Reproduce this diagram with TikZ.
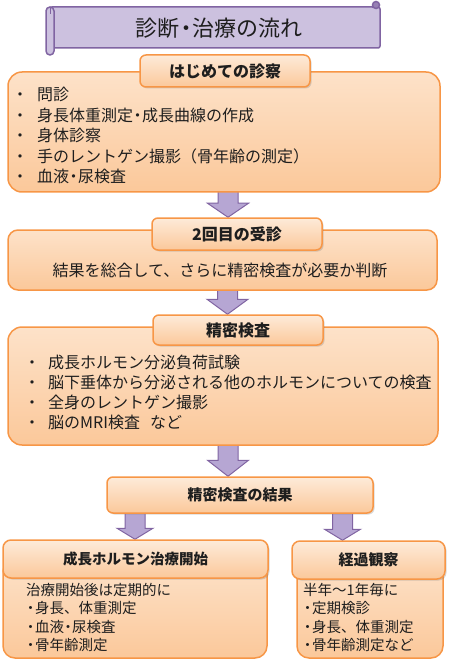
\documentclass[tikz,border=0pt]{standalone}
\usepackage{fontspec}
\setmainfont{Noto Sans CJK JP}
\usetikzlibrary{shadows,calc}
\definecolor{orbd}{HTML}{F79646}
\definecolor{ortop}{HTML}{FDE2C9}
\definecolor{orbot}{HTML}{FBC89A}
\definecolor{lvfill}{HTML}{CCC1DF}
\definecolor{lvbd}{HTML}{8064A2}
\definecolor{arfill}{HTML}{B6A6D3}
\definecolor{txt}{HTML}{1E1E1E}
\newcommand\nd{\makebox[0.55em][c]{・}}
\pgfdeclarelayer{bg}
\pgfsetlayers{bg,main}
\newcommand\fatarrow[6]{%
  \begin{pgfonlayer}{bg}
  \path[bigarrow] let \p1=(#2.south), \p2=(#3.north) in
    (#1pt-#6pt,\y1+3pt) -- (#1pt+#6pt,\y1+3pt) -- (#1pt+#6pt,\y2+#4pt) --
    (#1pt+#5pt,\y2+#4pt) -- (#1pt,\y2) -- (#1pt-#5pt,\y2+#4pt) --
    (#1pt-#6pt,\y2+#4pt) -- cycle;
  \end{pgfonlayer}}
\begin{document}
\begin{tikzpicture}[x=1pt,y=-1pt,
  every node/.style={text=txt},
  mainbox/.style={draw=orbd,line width=1.5pt,top color=ortop,bottom color=orbot,inner sep=0pt},
  hdrbox/.style={draw=orbd,line width=1.5pt,top color=ortop!70!white,bottom color=orbot,rounded corners=6pt,inner sep=0pt,
     font=\bfseries\fontsize{16pt}{18pt}\selectfont,
     drop shadow={opacity=0.3,shadow xshift=1.5pt,shadow yshift=-1.5pt}},
  bigarrow/.style={fill=arfill,draw=lvbd,line width=1pt,line join=miter},
  item/.style={anchor=base west,inner sep=0pt,font=\fontsize{16pt}{18pt}\selectfont},
  smitem/.style={anchor=base west,inner sep=0pt,font=\fontsize{14.5pt}{16pt}\selectfont},
  scroll/.style={fill=lvfill,draw=lvbd,line width=1.5pt}]
\useasboundingbox (0,0) rectangle (448,660);

% title scroll
\path[scroll,rounded corners=2pt] (50,7) rectangle (380,48);
\path[scroll,rounded corners=4pt] (46,7) rectangle (54,55);
\path[draw=lvbd,line width=1pt] (50,7) -- (50,14);
\path[scroll,fill=lvbd!70!lvfill] (376,5) circle (3.5);
\path[draw=lvbd,line width=1.5pt] (372.5,5) -- (372.5,8);
\node[inner sep=0pt,font=\fontsize{22pt}{24pt}\selectfont,anchor=base] (title) at (219,36.5) {診断\nd 治療の流れ};

% box 1
\node[mainbox,rounded corners=14pt,minimum width=432pt,minimum height=120pt] (box1) at (224,132) {};
\node[hdrbox,minimum width=170pt,minimum height=32pt] (hdr1) at (225,71) {はじめての診察};
\foreach \t [count=\i] in {問診,身長体重測定\nd 成長曲線の作成,身体診察,手のレントゲン撮影（骨年齢の測定）,血液\nd 尿検査}
  \node[item] (b1i\i) at (12,{101+20.5*(\i-1)}) {・\hspace{9pt}\t};

% box 2
\node[mainbox,rounded corners=10pt,minimum width=429pt,minimum height=60pt] (box2) at (222.5,260) {};
\node[hdrbox,minimum width=170pt,minimum height=32pt] (hdr2) at (237,234) {2回目の受診};
\node[inner sep=0pt,anchor=base,font=\fontsize{16pt}{18pt}\selectfont] (b2t) at (220,276) {結果を総合して、さらに精密検査が必要か判断};

% box 3
\node[mainbox,rounded corners=14pt,minimum width=430pt,minimum height=118pt] (box3) at (223,386) {};
\node[hdrbox,minimum width=170pt,minimum height=30pt] (hdr3) at (238,330) {精密検査};
\foreach \t [count=\i] in {成長ホルモン分泌負荷試験,脳下垂体から分泌される他のホルモンについての検査,全身のレントゲン撮影,脳のMRI検査\hspace{10pt}など}
  \node[item] (b3i\i) at (24,{368+20*(\i-1)}) {・\hspace{8pt}\t};

% result
\node[hdrbox,font=\bfseries\fontsize{15pt}{18pt}\selectfont,minimum width=266pt,minimum height=36pt] (res) at (240,495) {精密検査の結果};

% lower left
\node[mainbox,rounded corners=12pt,minimum width=264pt,minimum height=98pt] (lbody) at (135,609) {};
\node[hdrbox,font=\bfseries\fontsize{14.5pt}{18pt}\selectfont,rounded corners=8pt,minimum width=265pt,minimum height=38pt] (lhdr) at (135.5,559) {成長ホルモン治療開始};
\node[smitem] (l0) at (26,595.5) {治療開始後は定期的に};
\foreach \t [count=\i] in {身長、体重測定,血液\nd 尿検査,骨年齢測定}
  \node[smitem] (l\i) at (26,{595.5+18.3*\i}) {\makebox[9pt][c]{・}\t};

% lower right
\node[mainbox,rounded corners=12pt,minimum width=146pt,minimum height=98pt] (rbody) at (370,609) {};
\node[hdrbox,font=\bfseries\fontsize{15pt}{18pt}\selectfont,rounded corners=8pt,minimum width=153pt,minimum height=38pt] (rhdr) at (368.5,560) {経過観察};
\node[smitem] (r0) at (303,595.5) {半年～1年毎に};
\foreach \t [count=\i] in {定期検診,身長、体重測定,骨年齢測定など}
  \node[smitem] (r\i) at (303,{595.5+18.3*\i}) {\makebox[9pt][c]{・}\t};

% arrows
\fatarrow{228}{box1}{hdr2}{14}{20.5}{10}
\fatarrow{227.5}{box2}{hdr3}{15}{20.5}{10}
\fatarrow{228}{box3}{res}{16}{20.5}{10}
\fatarrow{135}{res}{lhdr}{11}{18}{10}
\fatarrow{342.5}{res}{rhdr}{11}{18}{10}
\end{tikzpicture}
\end{document}
